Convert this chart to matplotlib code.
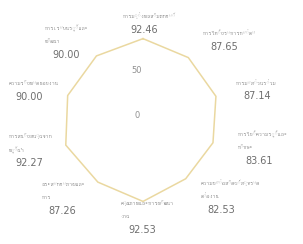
import numpy as np
import matplotlib
matplotlib.use("Agg")
import matplotlib.pyplot as plt
from matplotlib import font_manager
from matplotlib.ft2font import FT2Font

# ---------------- data ----------------
categories = [
    ["การมุ่งผลสัมฤทธิ์"],
    ["การให้บริการที่ดี"],
    ["การมีส่วนร่วม"],
    ["การใช้ความรู้และ", "ทักษะ"],
    ["ความซื่อสัตย์สุจริต", "ต่องาน"],
    ["คุณภาพและการพัฒนา", "งาน"],
    ["ประสิทธิภาพและ", "การ"],
    ["การสนับสนุนจาก", "ผู้นำ"],
    ["ความรับผิดชอบงาน"],
    ["การเรียนรู้และ", "พัฒนา"],
]
values = [92.46, 87.65, 87.14, 83.61, 82.53, 92.53, 87.26, 92.27, 90.00, 90.00]
radial_ticks = [0, 50]

# ---------------- font with Thai glyphs ----------------
thai_family = None
for path in font_manager.findSystemFonts():
    try:
        f = FT2Font(path)
        if 0x0E01 in f.get_charmap():
            thai_family = font_manager.FontProperties(fname=path).get_name()
            break
    except Exception:
        pass
fam = [thai_family, "DejaVu Sans"] if thai_family else ["DejaVu Sans"]

# ---------------- layout ----------------
W, H, DPI = 303, 244, 100
fig = plt.figure(figsize=(W / DPI, H / DPI), dpi=DPI)
fig.patch.set_facecolor("white")
cx, cy, R = 143, 120, 88
ax = fig.add_axes([(cx - R) / W, (H - cy - R) / H, 2 * R / W, 2 * R / H], projection="polar")
ax.set_theta_offset(np.pi / 2)
ax.set_theta_direction(-1)
ax.set_ylim(0, 100)
ax.set_axis_off()

n = len(values)
theta = np.arange(n) * 2 * np.pi / n
ax.plot(np.append(theta, theta[0]), np.append(values, values[0]),
        color="#ead8a0", lw=1.1, solid_joinstyle="miter")

# label offsets (pixels) of value text (left edge) from each vertex
value_offsets = [(-13, 9), (22, 11), (27, 0), (32, -18), (22, -31),
                 (-15, -29), (-49, -29), (-50, -18), (-52, -1), (-44, 1)]
for i in range(n):
    dx, dy = value_offsets[i]
    ax.annotate(f"{values[i]:.2f}", (theta[i], values[i]), xytext=(dx, dy),
                textcoords="offset pixels", ha="left", va="center",
                fontsize=7, color="#6e6e6e", family=["DejaVu Sans"],
                annotation_clip=False)
    lines = categories[i]
    k = len(lines)
    for j, line in enumerate(lines):
        ax.annotate(line, (theta[i], values[i]),
                    xytext=(dx - 7.5, dy + 13.5 * (k - j)),
                    textcoords="offset pixels", ha="left", va="center",
                    fontsize=4.5, color="#8c8c8c", family=fam,
                    annotation_clip=False)

for t in radial_ticks:
    ax.annotate(str(t), (0, t), xytext=(-6, 5), textcoords="offset pixels",
                ha="center", va="center", fontsize=6, color="#909090",
                annotation_clip=False)

fig.savefig("out.png", dpi=DPI, facecolor="white")
